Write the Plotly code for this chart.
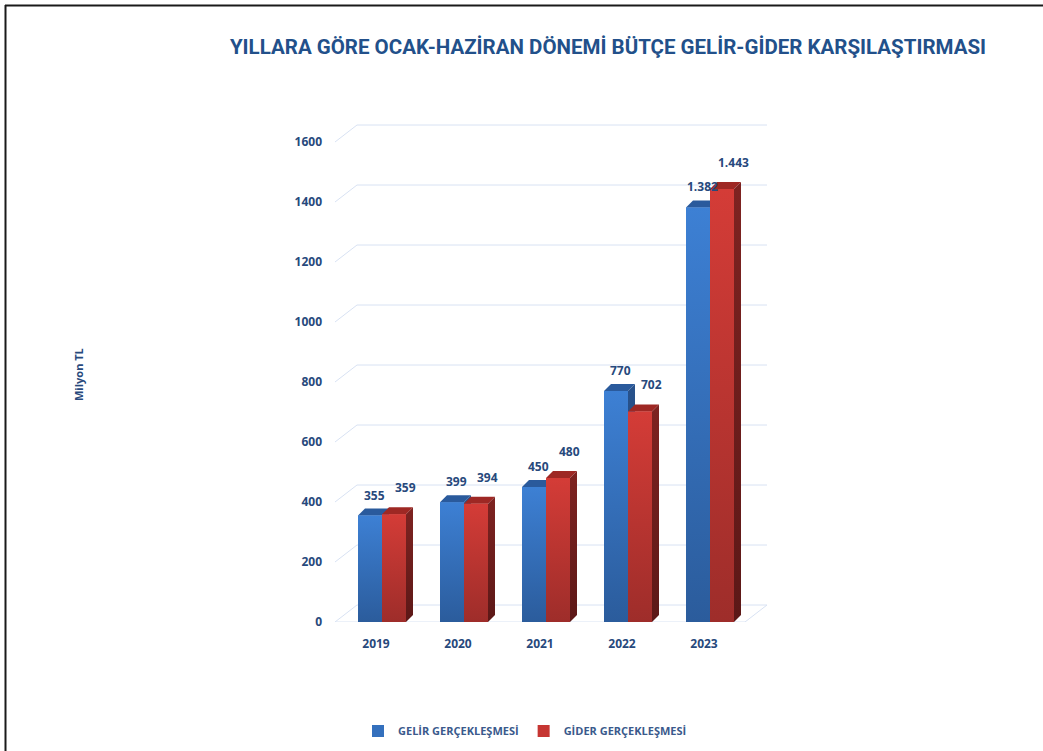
import plotly.graph_objects as go

# ---- data ----
years = ["2019", "2020", "2021", "2022", "2023"]
gelir = [355, 399, 450, 770, 1382]
gider = [359, 394, 480, 702, 1443]
series_names = ["GELİR GERÇEKLEŞMESİ", "GİDER GERÇEKLEŞMESİ"]
y_ticks = [0, 200, 400, 600, 800, 1000, 1200, 1400, 1600]
title_text = "YILLARA GÖRE OCAK-HAZİRAN DÖNEMİ BÜTÇE GELİR-GİDER KARŞILAŞTIRMASI"
y_title = "Milyon TL"

# ---- layout geometry ----
W, H = 1043, 751
ML, MR, MT, MB = 335, 276, 120, 129
PW, PH = W - ML - MR, H - MT - MB
PX_PER_X = 82.0
PX_PER_Y = 0.3
x_range = [-0.5, -0.5 + PW / PX_PER_X]
y_range = [0, PH / PX_PER_Y]

bar_w = 24 / PX_PER_X
off_blue, off_red = -6 / PX_PER_X, 18 / PX_PER_X
dx, dy = 7 / PX_PER_X, 7 / PX_PER_Y          # 3-D depth of bars
bdx, bdy = (x_range[1] - 4.5), 17 / PX_PER_Y  # back wall offset

TXT = "#27497c"
FONT = "Open Sans"

def fmt(v):
    return f"{v:,}".replace(",", ".")

def px2paper_x(px):
    return (px - ML) / PW

def px2paper_y(py):
    return (H - MB - py) / PH

fig = go.Figure()

xs = list(range(len(years)))
styles = [
    dict(vals=gelir, off=off_blue, base="#3470bd", grad=[[0, "#2b5c9c"], [1, "#3d80d4"]],
         side=[[0, "#1f3f6c"], [1, "#28528c"]], top="#2a5a9c"),
    dict(vals=gider, off=off_red, base="#c63632", grad=[[0, "#9e2d2a"], [1, "#d43c37"]],
         side=[[0, "#5c1817"], [1, "#7e2321"]], top="#9e2824"),
]

# base bar traces (legend + underlying marks)
for name, st in zip(series_names, styles):
    fig.add_trace(go.Bar(
        x=[i + st["off"] for i in xs], y=st["vals"], width=bar_w, name=name,
        marker=dict(color=st["base"], line=dict(width=0)), hoverinfo="skip"))

# 3-D faces drawn as filled polygons, series by series (blue first so red occludes it)
for st in styles:
    for i, v in zip(xs, st["vals"]):
        x0 = i + st["off"] - bar_w / 2
        x1 = i + st["off"] + bar_w / 2
        # top face
        fig.add_trace(go.Scatter(
            x=[x0, x0 + dx, x1 + dx, x1, x0], y=[v, v + dy, v + dy, v, v],
            fill="toself", fillcolor=st["top"], mode="none", showlegend=False, hoverinfo="skip"))
        # side face
        fig.add_trace(go.Scatter(
            x=[x1, x1 + dx, x1 + dx, x1, x1], y=[0, dy, v + dy, v, 0],
            fill="toself", mode="none", showlegend=False, hoverinfo="skip",
            fillgradient=dict(type="vertical", colorscale=st["side"])))
        # front face
        fig.add_trace(go.Scatter(
            x=[x0, x1, x1, x0, x0], y=[0, 0, v, v, 0],
            fill="toself", mode="none", showlegend=False, hoverinfo="skip",
            fillgradient=dict(type="vertical", colorscale=st["grad"])))

# gridlines on back wall with side-wall diagonals
shapes = []
grid_col = "#d8e2f3"
for v in y_ticks:
    shapes.append(dict(type="line", xref="x", yref="y", x0=-0.5, y0=v, x1=-0.5 + bdx, y1=v + bdy,
                       line=dict(color=grid_col, width=1), layer="below"))
    shapes.append(dict(type="line", xref="x", yref="y", x0=-0.5 + bdx, y0=v + bdy, x1=x_range[1], y1=v + bdy,
                       line=dict(color=grid_col, width=1), layer="below"))
# floor front edge and right diagonal
shapes.append(dict(type="line", xref="x", yref="y", x0=-0.5, y0=0, x1=4.5, y1=0,
                   line=dict(color=grid_col, width=1), layer="below"))
shapes.append(dict(type="line", xref="x", yref="y", x0=4.5, y0=0, x1=x_range[1], y1=bdy,
                   line=dict(color=grid_col, width=1), layer="below"))
# page border (top + left)
shapes.append(dict(type="line", xref="paper", yref="paper", x0=px2paper_x(5), y0=px2paper_y(5.5),
                   x1=px2paper_x(W), y1=px2paper_y(5.5), line=dict(color="#1a1a1a", width=2)))
shapes.append(dict(type="line", xref="paper", yref="paper", x0=px2paper_x(5.5), y0=px2paper_y(5),
                   x1=px2paper_x(5.5), y1=px2paper_y(H), line=dict(color="#1a1a1a", width=2)))

# data labels
annotations = []
for st, xshift, yshift in ((styles[0], 4, 3), (styles[1], 11, 9)):
    for i, v in zip(xs, st["vals"]):
        annotations.append(dict(
            x=i + st["off"], y=v + dy, xref="x", yref="y", text=fmt(v), showarrow=False,
            yanchor="bottom", xshift=xshift, yshift=yshift,
            font=dict(family=FONT, size=12, color=TXT, weight="bold")))
# y-axis title
annotations.append(dict(
    x=px2paper_x(78), y=px2paper_y(375), xref="paper", yref="paper", text=y_title,
    xanchor="center", yanchor="middle",
    textangle=-90, showarrow=False, font=dict(family=FONT, size=11, color=TXT, weight="bold")))

fig.update_layout(
    width=W, height=H, autosize=False,
    margin=dict(l=ML, r=MR, t=MT, b=MB, pad=0, autoexpand=False),
    paper_bgcolor="white", plot_bgcolor="white",
    barmode="overlay",
    title=dict(text=title_text, x=608 / W, xanchor="center", y=1 - 47 / H, yanchor="middle",
               font=dict(family="Roboto, Open Sans", size=20.5, color="#22508a", weight="bold")),
    xaxis=dict(range=x_range, tickmode="array", tickvals=xs, ticktext=years,
               showgrid=False, zeroline=False, showline=False, ticks="",
               ticklabelstandoff=13, fixedrange=True,
               tickfont=dict(family=FONT, size=12, color=TXT, weight="bold")),
    yaxis=dict(range=y_range, tickmode="array", tickvals=y_ticks,
               showgrid=False, zeroline=False, showline=False, ticks="",
               ticklabelstandoff=12, fixedrange=True,
               tickfont=dict(family=FONT, size=12, color=TXT, weight="bold")),
    legend=dict(orientation="h", x=px2paper_x(525), y=px2paper_y(731), xanchor="center", yanchor="middle",
                font=dict(family=FONT, size=11, color="#3a5a8c", weight="bold"),
                itemwidth=30, tracegroupgap=0, bgcolor="rgba(0,0,0,0)"),
    shapes=shapes,
    annotations=annotations,
    showlegend=True,
)

fig.write_html("out.html", config={"displayModeBar": False},
               post_script="document.body.style.margin='0';document.body.style.overflow='hidden';")
